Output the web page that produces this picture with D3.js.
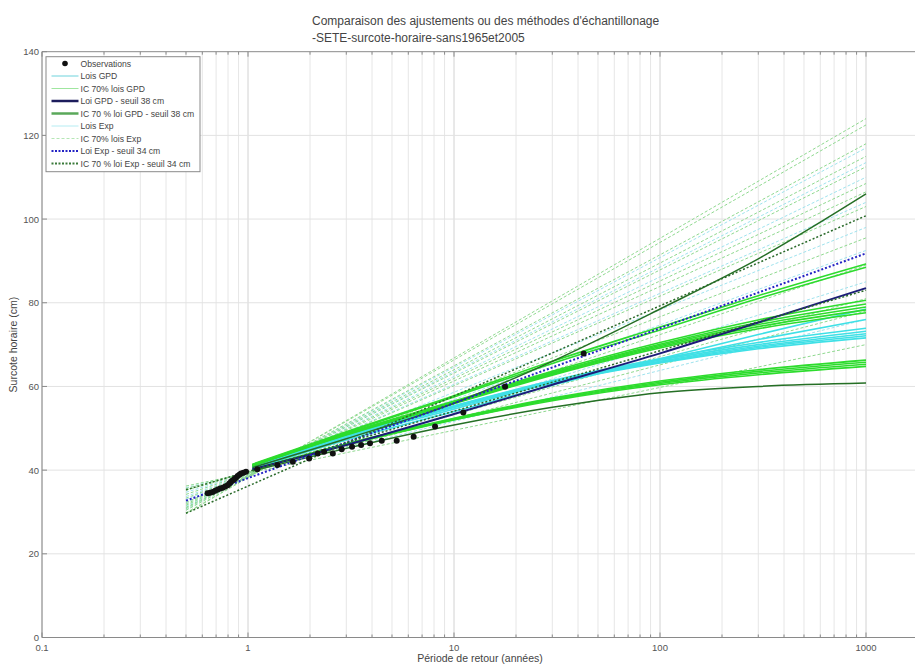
<!DOCTYPE html>
<html>
<head>
<meta charset="utf-8">
<script src="https://cdn.jsdelivr.net/npm/d3@7"></script>
<style>
  body { margin: 0; background: #fff; }
  text { font-family: "Liberation Sans", Arial, sans-serif; }
</style>
</head>
<body>
<div id="chart"></div>
<script>
// Observations (return period in years, surge in cm)
var obsT = [0.637, 0.655, 0.674, 0.693, 0.713, 0.733, 0.754, 0.775, 0.797, 0.812, 0.827, 0.842, 0.858, 0.874, 0.891, 0.908, 0.925, 0.95, 0.978,
            1.11, 1.39, 1.65, 1.98, 2.18, 2.34, 2.58, 2.85, 3.2, 3.54, 3.91, 4.46, 5.27, 6.37, 8.09, 11.1, 17.7, 42.6];
var obsV = [34.5, 34.6, 34.8, 35.1, 35.4, 35.6, 35.8, 36.1, 36.4, 36.8, 37.2, 37.5, 37.8, 38.2, 38.6, 38.9, 39.2, 39.4, 39.6,
            40.2, 41.2, 42.0, 42.8, 44.0, 44.4, 44.0, 45.0, 45.6, 46.0, 46.4, 47.0, 47.0, 48.0, 50.4, 53.8, 59.9, 67.9];

// GPD curves, values read at these return periods
var gpdT = [1.05, 3, 10, 30, 100, 300, 1000];
var loisGPD = [
  [40.6, 47.8, 55.0, 60.8, 65.6, 69.0, 71.6],
  [40.7, 47.9, 55.1, 60.9, 65.8, 69.3, 72.1],
  [40.8, 48.0, 55.2, 61.0, 66.0, 69.6, 72.6],
  [40.8, 48.1, 55.3, 61.2, 66.3, 70.0, 73.2],
  [40.9, 48.2, 55.4, 61.4, 66.6, 70.5, 73.9],
  [40.5, 47.6, 54.6, 60.8, 66.4, 71.2, 76.0],
  [40.3, 47.2, 54.0, 60.3, 66.6, 72.4, 78.5]
];
var icLoisGPD = [
  [41.0, 48.4, 55.9, 62.7, 69.2, 73.8, 77.6],
  [41.0, 48.5, 56.0, 62.9, 69.5, 74.3, 78.3],
  [41.1, 48.6, 56.2, 63.1, 69.8, 74.8, 79.0],
  [41.1, 48.7, 56.3, 63.3, 70.1, 75.3, 79.7],
  [41.2, 48.8, 56.5, 63.6, 70.5, 75.9, 80.6],
  [41.3, 49.0, 57.5, 65.5, 73.5, 81.0, 88.5],
  [41.4, 49.2, 57.8, 66.0, 74.2, 81.7, 89.3],
  [40.0, 46.0, 52.0, 56.6, 60.4, 62.8, 64.8],
  [40.0, 46.1, 52.1, 56.8, 60.7, 63.2, 65.3],
  [40.1, 46.2, 52.3, 57.0, 61.0, 63.6, 65.8],
  [40.1, 46.3, 52.4, 57.2, 61.3, 64.0, 66.3]
];
var loiGPD38 = [40.2, 46.0, 53.4, 60.4, 67.9, 75.3, 83.5];
var icGPD38 = [
  [40.6, 47.5, 56.0, 66.0, 78.5, 90.5, 106.0],
  [39.8, 45.2, 50.8, 55.0, 58.5, 60.0, 60.8]
];

// Exponential fits are straight on the log axis: start and end values
var expT = [0.5, 1000];
var loisExp = [
  [30.5, 117.0], [31.0, 113.5], [31.4, 110.0], [32.2, 104.0],
  [33.0, 98.0], [33.7, 92.5], [34.7, 85.0], [35.8, 76.0]
];
var icLoisExp = [
  [29.6, 124.0], [29.8, 122.5], [30.4, 118.0], [30.8, 115.0], [31.1, 112.5],
  [31.6, 108.5], [31.9, 106.5], [32.3, 103.0], [33.3, 95.5], [34.2, 89.0],
  [35.2, 81.0], [35.6, 78.0], [36.2, 70.0]
];
var loiExp34 = [32.7, 91.8];
var icExp34 = [[29.7, 100.8], [35.3, 83.0]];

var xTickLabels = [0.1, 1, 10, 100, 1000];
var yTickValues = [0, 20, 40, 60, 80, 100, 120, 140];

var W = 915, H = 666;
var plotLeft = 42, plotRight = 866, plotTop = 51.7, plotBottom = 637.5;

var svg = d3.select("#chart").append("svg")
  .attr("width", W)
  .attr("height", H);

var x = d3.scaleLog().domain([0.1, 1000]).range([plotLeft, plotRight]);
var y = d3.scaleLinear().domain([0, 140]).range([plotBottom, plotTop]);

// grid
svg.append("g").selectAll("line")
  .data(x.ticks())
  .enter().append("line")
  .attr("x1", function(d) { return x(d); })
  .attr("x2", function(d) { return x(d); })
  .attr("y1", plotTop)
  .attr("y2", plotBottom)
  .attr("stroke", function(d) { return xTickLabels.indexOf(d) >= 0 ? "#d2d2d2" : "#e6e6e6"; })
  .attr("stroke-width", 1);

svg.append("g").selectAll("line")
  .data(yTickValues.slice(1, -1))
  .enter().append("line")
  .attr("x1", plotLeft)
  .attr("x2", W)
  .attr("y1", function(d) { return y(d); })
  .attr("y2", function(d) { return y(d); })
  .attr("stroke", "#e2e2e2");

// frame
var frame = svg.append("g").attr("stroke", "#8a8a8a").attr("stroke-width", 1);
frame.append("line").attr("x1", plotLeft).attr("x2", W).attr("y1", plotTop).attr("y2", plotTop);
frame.append("line").attr("x1", plotLeft).attr("x2", W).attr("y1", plotBottom).attr("y2", plotBottom);
frame.append("line").attr("x1", plotLeft).attr("x2", plotLeft).attr("y1", plotTop).attr("y2", plotBottom);

// ticks
svg.append("g").selectAll("line")
  .data(x.ticks())
  .enter().append("line")
  .attr("x1", function(d) { return x(d); })
  .attr("x2", function(d) { return x(d); })
  .attr("y1", plotBottom)
  .attr("y2", function(d) { return plotBottom - (xTickLabels.indexOf(d) >= 0 ? 5 : 3); })
  .attr("stroke", "#8a8a8a");
svg.append("g").selectAll("line")
  .data(x.ticks())
  .enter().append("line")
  .attr("x1", function(d) { return x(d); })
  .attr("x2", function(d) { return x(d); })
  .attr("y1", plotTop)
  .attr("y2", function(d) { return plotTop + (xTickLabels.indexOf(d) >= 0 ? 5 : 3); })
  .attr("stroke", "#8a8a8a");
svg.append("g").selectAll("line")
  .data(yTickValues)
  .enter().append("line")
  .attr("x1", plotLeft)
  .attr("x2", plotLeft + 5)
  .attr("y1", function(d) { return y(d); })
  .attr("y2", function(d) { return y(d); })
  .attr("stroke", "#8a8a8a");

// tick labels
svg.append("g").selectAll("text")
  .data(yTickValues)
  .enter().append("text")
  .attr("x", plotLeft - 3)
  .attr("y", function(d) { return y(d) + 3.5; })
  .attr("text-anchor", "end")
  .attr("font-size", "9.5px")
  .attr("fill", "#555")
  .text(function(d) { return d; });
svg.append("g").selectAll("text")
  .data(xTickLabels)
  .enter().append("text")
  .attr("x", function(d) { return x(d); })
  .attr("y", plotBottom + 13)
  .attr("text-anchor", "middle")
  .attr("font-size", "9.5px")
  .attr("fill", "#555")
  .text(function(d) { return d; });

// axis titles
svg.append("text")
  .attr("x", 480)
  .attr("y", 662)
  .attr("text-anchor", "middle")
  .attr("font-size", "10.5px")
  .attr("fill", "#444")
  .text("Période de retour (années)");
svg.append("text")
  .attr("transform", "translate(17," + ((plotTop + plotBottom) / 2) + ") rotate(-90)")
  .attr("text-anchor", "middle")
  .attr("font-size", "10.5px")
  .attr("fill", "#444")
  .text("Surcote horaire (cm)");

// title
svg.append("text")
  .attr("x", 312).attr("y", 25)
  .attr("font-size", "12px").attr("fill", "#444")
  .text("Comparaison des ajustements ou des méthodes d'échantillonage");
svg.append("text")
  .attr("x", 312).attr("y", 42)
  .attr("font-size", "12px").attr("fill", "#444")
  .text("-SETE-surcote-horaire-sans1965et2005");

// curves
var plot = svg.append("g");

var curveLine = d3.line()
  .x(function(d) { return x(d[0]); })
  .y(function(d) { return y(d[1]); })
  .curve(d3.curveMonotoneX);

function pairs(ts, vs) {
  return ts.map(function(t, i) { return [t, vs[i]]; });
}

function drawSet(sets, ts, colour, w, dash) {
  sets.forEach(function(vs) {
    plot.append("path")
      .attr("d", curveLine(pairs(ts, vs)))
      .attr("fill", "none")
      .attr("stroke", colour)
      .attr("stroke-width", w)
      .attr("stroke-dasharray", dash);
  });
}

drawSet(loisExp, expT, "#9fe3ee", 1, "3,2");
drawSet(icLoisExp, expT, "#8fd98f", 1, "3,2");
drawSet(loisGPD, gpdT, "#3fe0e6", 1.6, null);
drawSet(icLoisGPD, gpdT, "#2ddc2d", 1.6, null);
drawSet([loiGPD38], gpdT, "#1c1c78", 2, null);
drawSet(icGPD38, gpdT, "#256f25", 1.5, null);
drawSet([loiExp34], expT, "#2323c4", 2, "2,2");
drawSet(icExp34, expT, "#2a6a2a", 1.5, "2,2");

plot.append("g").selectAll("circle")
  .data(obsT)
  .enter().append("circle")
  .attr("cx", function(d) { return x(d); })
  .attr("cy", function(d, i) { return y(obsV[i]); })
  .attr("r", 3)
  .attr("fill", "#111");

// legend
var legendItems = [
  { label: "Observations", type: "dot" },
  { label: "Lois GPD", colour: "#6fd3dc", w: 1, dash: null },
  { label: "IC 70% lois GPD", colour: "#9fe69f", w: 1, dash: null },
  { label: "Loi GPD - seuil 38 cm", colour: "#1c1c5c", w: 2.5, dash: null },
  { label: "IC 70 % loi GPD - seuil 38 cm", colour: "#5aa85a", w: 2.5, dash: null },
  { label: "Lois Exp", colour: "#b5ecf2", w: 1, dash: null },
  { label: "IC 70% lois Exp", colour: "#b5e6b5", w: 1, dash: "3,2" },
  { label: "Loi Exp - seuil 34 cm", colour: "#2323c4", w: 2, dash: "2,1.5" },
  { label: "IC 70 % loi Exp - seuil 34 cm", colour: "#3a7a3a", w: 2, dash: "2,1.5" }
];

var legend = svg.append("g");
legend.append("rect")
  .attr("x", 46).attr("y", 56.7)
  .attr("width", 154).attr("height", 115)
  .attr("fill", "#fff")
  .attr("stroke", "#8a8a8a");

legendItems.forEach(function(it, i) {
  var ly = 63.5 + i * 12.5;
  if (it.type === "dot") {
    legend.append("circle").attr("cx", 65).attr("cy", ly).attr("r", 2.8).attr("fill", "#111");
  } else {
    legend.append("line")
      .attr("x1", 51.5).attr("x2", 78.5)
      .attr("y1", ly).attr("y2", ly)
      .attr("stroke", it.colour)
      .attr("stroke-width", it.w)
      .attr("stroke-dasharray", it.dash);
  }
  legend.append("text")
    .attr("x", 80.5).attr("y", ly + 3.2)
    .attr("font-size", "8.6px")
    .attr("fill", "#444")
    .text(it.label);
});
</script>
</body>
</html>
